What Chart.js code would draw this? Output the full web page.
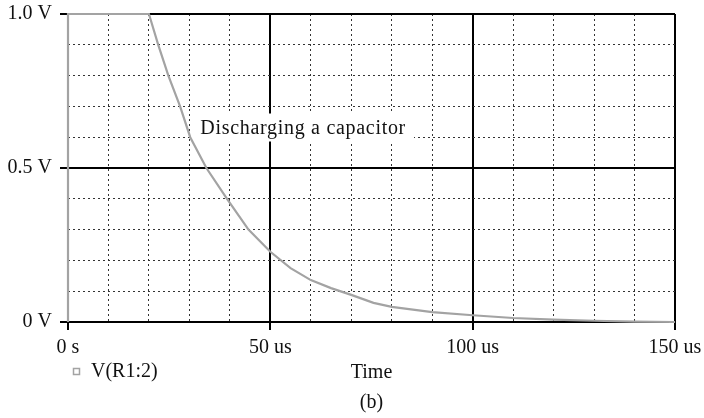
<!DOCTYPE html>
<html>
<head>
<meta charset="utf-8">
<script src="https://cdn.jsdelivr.net/npm/chart.js@4"></script>
<style>
  html, body { margin: 0; padding: 0; background: #fff; }
  #wrap { width: 704px; height: 418px; }
</style>
</head>
<body>
<div id="wrap"><canvas id="grafico" width="704" height="418"></canvas></div>
<script>
// Valores (tempo em us, tensão em V)
const tempos  = [0, 0, 20, 22.3, 24.8, 27.7, 30.2, 34.2, 39.3, 44.6, 50, 55, 60, 65, 70, 75.5, 80, 90, 100, 110, 120, 130, 140, 150];
const tensoes = [0, 1, 1, 0.9, 0.8, 0.7, 0.6, 0.5, 0.4, 0.3, 0.228, 0.175, 0.136, 0.11, 0.088, 0.062, 0.049, 0.032, 0.022, 0.013, 0.008, 0.004, 0.001, 0];

// Rótulos dos eixos
const xMarcas = [0, 50, 100, 150];
const xRotulos = ['0 s', '50 us', '100 us', '150 us'];
const yMarcas = [0, 0.5, 1];
const yRotulos = ['0 V', '0.5 V', '1.0 V'];

const nomeSerie = 'V(R1:2)';
const tituloX = 'Time';
const legendaFig = '(b)';
const anotacao = 'Discharging a capacitor';
const anotacaoX = 32.7;   // us
const anotacaoY = 0.612;  // V

const FONTE = 'Liberation Serif, Times New Roman, serif';
const TAM = 20;
const COR_CURVA = '#a3a3a3';

// Verifica se um valor é uma marca principal
function principal(v, marcas) {
    return marcas.some(m => Math.abs(m - v) < 1e-6);
}

function rotulo(v, marcas, rotulos) {
    const i = marcas.findIndex(m => Math.abs(m - v) < 1e-6);
    return i >= 0 ? rotulos[i] : '';
}

// Opções da grade: linhas cheias nas marcas principais, pontilhadas nas outras
function grade(marcas) {
    return {
        color: ctx => principal(ctx.tick.value, marcas) ? '#000' : '#333',
        lineWidth: ctx => principal(ctx.tick.value, marcas) ? 2 : 1,
        tickColor: ctx => principal(ctx.tick.value, marcas) ? '#000' : 'rgba(0,0,0,0)',
        tickWidth: 2,
        tickLength: 8
    };
}

function borda(marcas) {
    return {
        display: false,
        dash: ctx => (ctx.tick && !principal(ctx.tick.value, marcas)) ? [2, 3] : []
    };
}

// Plugin para textos fixos: anotação, legenda, título do eixo e "(b)"
const textosPlugin = {
    id: 'textos',
    beforeDatasetsDraw(chart) {
        const c = chart.ctx;
        const xs = chart.scales.x, ys = chart.scales.y;
        const px = xs.getPixelForValue(anotacaoX);
        const py = ys.getPixelForValue(anotacaoY);
        c.save();
        c.font = TAM + 'px ' + FONTE;
        c.letterSpacing = '0.7px';
        const w = c.measureText(anotacao).width;
        c.fillStyle = '#fff';
        c.fillRect(px - 9, py - 20, w + 17, 28);
        c.fillStyle = '#111';
        c.textBaseline = 'alphabetic';
        c.textAlign = 'left';
        c.fillText(anotacao, px, py);
        c.restore();
    },
    afterDraw(chart) {
        const c = chart.ctx;
        const a = chart.chartArea;
        const meio = (a.left + a.right) / 2;
        c.save();
        c.font = TAM + 'px ' + FONTE;
        c.fillStyle = '#111';
        c.textAlign = 'center';
        c.textBaseline = 'middle';
        c.fillText(tituloX, meio, a.bottom + 51);
        c.fillText(legendaFig, meio, a.bottom + 81);
        // legenda da série
        c.strokeStyle = COR_CURVA;
        c.lineWidth = 1.5;
        c.strokeRect(a.left + 5.5, a.bottom + 46.5, 6, 6);
        c.textAlign = 'left';
        c.fillText(nomeSerie, a.left + 23, a.bottom + 50);
        c.restore();
    }
};

const ctx = document.getElementById('grafico').getContext('2d');
window.grafico = new Chart(ctx, {
    type: 'line',
    data: {
        datasets: [{
            label: nomeSerie,
            data: tempos.map((t, i) => ({ x: t, y: tensoes[i] })),
            borderColor: COR_CURVA,
            borderWidth: 2.2,
            pointRadius: 0,
            tension: 0,
            fill: false,
            clip: 3
        }]
    },
    options: {
        responsive: false,
        devicePixelRatio: 1,
        animation: false,
        layout: { padding: { top: 14, right: 29, left: 0, bottom: 0 } },
        plugins: {
            legend: { display: false },
            tooltip: { enabled: false }
        },
        scales: {
            x: {
                type: 'linear',
                min: 0,
                max: 150,
                afterFit: s => { s.height = 96; s.paddingLeft = 0; s.paddingRight = 0; },
                grid: grade(xMarcas),
                border: borda(xMarcas),
                ticks: {
                    stepSize: 10,
                    autoSkip: false,
                    maxRotation: 0,
                    padding: 6,
                    color: '#111',
                    font: { family: FONTE, size: TAM },
                    callback: v => rotulo(v, xMarcas, xRotulos)
                }
            },
            y: {
                type: 'linear',
                min: 0,
                max: 1,
                afterFit: s => { s.width = 68; s.paddingTop = 0; s.paddingBottom = 0; },
                grid: grade(yMarcas),
                border: borda(yMarcas),
                ticks: {
                    stepSize: 0.1,
                    autoSkip: false,
                    padding: 8,
                    color: '#111',
                    font: { family: FONTE, size: TAM },
                    callback: v => rotulo(v, yMarcas, yRotulos)
                }
            }
        }
    },
    plugins: [textosPlugin]
});
</script>
</body>
</html>
